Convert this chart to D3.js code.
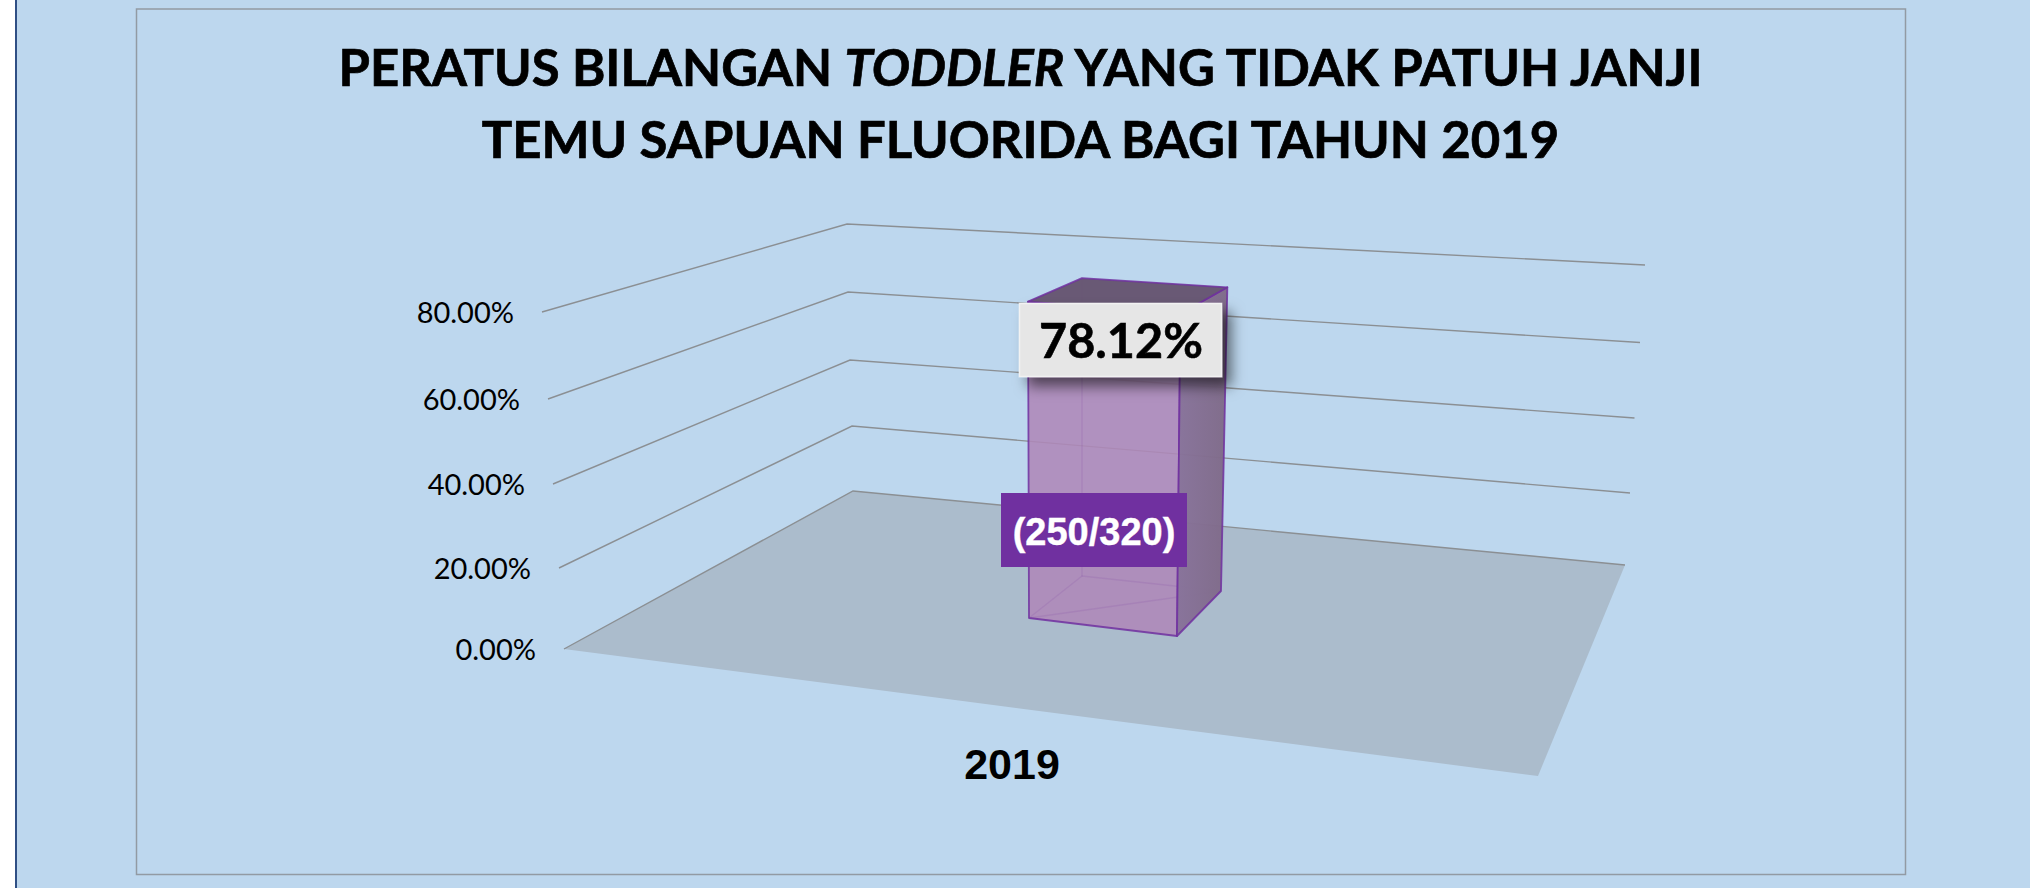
<!DOCTYPE html>
<html><head><meta charset="utf-8">
<script src="https://cdn.jsdelivr.net/npm/d3@7/dist/d3.min.js"></script>
<style>html,body{margin:0;padding:0;background:#fff;overflow:hidden}svg{display:block}</style>
</head><body><div id="c"></div>
<script>
const titleLine1 = [["PERATUS BILANGAN ",false],["TODDLER",true],[" YANG TIDAK PATUH JANJI",false]];
const titleLine2 = "TEMU SAPUAN FLUORIDA BAGI TAHUN 2019";
const categories = ["2019"];
const values = [78.12];
const countLabels = ["(250/320)"];
const yTicks = [0,20,40,60,80];
const yTickLabels = ["0.00%","20.00%","40.00%","60.00%","80.00%"];
const yMax = 80;

const W=2030,H=888;
const svg=d3.select("#c").append("svg").attr("width",W).attr("height",H);
const defs=svg.append("defs");
const sh=defs.append("filter").attr("id","sh").attr("x","-20%").attr("y","-30%").attr("width","150%").attr("height","180%");
sh.append("feDropShadow").attr("dx",9).attr("dy",9).attr("stdDeviation",7).attr("flood-color","#000").attr("flood-opacity",.55);
const sideG=defs.append("linearGradient").attr("id","side");
sideG.append("stop").attr("offset",0).attr("stop-color","#88729a").attr("stop-opacity",.97);
sideG.append("stop").attr("offset",1).attr("stop-color","#7f6a88").attr("stop-opacity",.97);

svg.append("rect").attr("x",16).attr("y",0).attr("width",W-16).attr("height",H).attr("fill","#bdd7ee");
svg.append("line").attr("x1",16).attr("x2",16).attr("y1",0).attr("y2",H).attr("stroke","#2f4f85").attr("stroke-width",2);
svg.append("rect").attr("x",136.5).attr("y",9).attr("width",1769).attr("height",865.5).attr("fill","none").attr("stroke","#929aa3").attr("stroke-width",1.5);

// projected axes: each edge of the 3-D box is a scale from value to a screen point.
// d3's array interpolator reuses its output, so every call is copied.
const edge=(dom,rng)=>{const s=d3.scaleLinear().domain(dom).range(rng);return t=>[...s(t)];};
const leftEdge=edge(yTicks,[[564,649],[559,568],[553,484],[548,399],[542,312]]);
const backEdge=edge(yTicks,[[853,491],[852,426],[850,360],[848,292],[847,224]]);
const rightEdge=edge(yTicks,[[1625,565],[1630,493],[1634.5,418],[1640,342.5],[1645,265]]);
const floorFront=[1538,776];

const path=pts=>d3.line()(pts)+"Z";
svg.append("path").attr("d",path([leftEdge(0),backEdge(0),rightEdge(0),floorFront])).attr("fill","#abbccc");

svg.append("g").selectAll("path").data(yTicks).join("path")
 .attr("d",t=>d3.line()([leftEdge(t),backEdge(t),rightEdge(t)]))
 .attr("fill","none").attr("stroke","#8b8f93").attr("stroke-width",1.4);

svg.append("g").selectAll("text").data(yTicks).join("text")
 .attr("x",t=>leftEdge(t)[0]-28).attr("y",t=>leftEdge(t)[1]+11)
 .attr("text-anchor","end").attr("font-family","Lato").attr("font-size",29).attr("fill","#000")
 .text((t,i)=>yTickLabels[i]);

// bar: four vertical edges, value -> screen point
const fl=edge([0,yMax],[[1029,618],[1028,294]]);
const fr=edge([0,yMax],[[1177,636],[1180.5,306]]);
const br=edge([0,yMax],[[1221,591],[1227.5,280]]);
const bl=edge([0,yMax],[[1082,576],[1082,271]]);
const v=values[0];
const lineC="#7030a0";
const bar=svg.append("g");
const face=(pts,fill,op,sw,so)=>bar.append("path").attr("d",path(pts)).attr("fill",fill).attr("fill-opacity",op)
  .attr("stroke",lineC).attr("stroke-width",sw).attr("stroke-opacity",so).attr("stroke-linejoin","round");
face([fl(0),fl(v),fr(v),fr(0)],"#ae88b8",.88,1.8,.85);
face([bl(0),bl(v)],"none",0,1.5,.12);
face([fl(0),bl(0),br(0)],"none",0,1.5,.12);
face([fr(0),fr(v),br(v),br(0)],"url(#side)",1,1.8,.85);
face([fl(v),bl(v),br(v),fr(v)],"#675672",.98,1.8,.85);

// value label
svg.append("rect").attr("x",1019.5).attr("y",303.5).attr("width",202).attr("height",73)
 .attr("fill","#e6e6e6").attr("stroke","#f2f2f2").attr("stroke-width",1.5).attr("filter","url(#sh)");
svg.append("text").attr("x",1121).attr("y",358).attr("text-anchor","middle").attr("font-family","Lato").attr("font-weight",700)
 .attr("font-size",48.5).attr("stroke","#000").attr("stroke-width",.6).attr("fill","#000").text(v.toFixed(2)+"%");

svg.append("rect").attr("x",1001).attr("y",493).attr("width",186).attr("height",74).attr("fill","#7030a0");
svg.append("text").attr("x",1094).attr("y",545).attr("text-anchor","middle").attr("font-family","Liberation Sans").attr("font-weight",700)
 .attr("font-size",38).attr("fill","#fff").attr("stroke","#fff").attr("stroke-width",.4).text(countLabels[0]);

svg.append("text").attr("x",1012).attr("y",779).attr("text-anchor","middle").attr("font-family","Liberation Sans").attr("font-weight",700)
 .attr("font-size",43).attr("fill","#000").text(categories[0]);

const titleStyle=s=>s.attr("x",1020.5).attr("text-anchor","middle").attr("font-family","Lato").attr("font-weight",700).attr("font-size",50.8).attr("fill","#000").attr("stroke","#000").attr("stroke-width",.7);
const t1=svg.append("text").attr("y",86).call(titleStyle);
t1.selectAll("tspan").data(titleLine1).join("tspan").attr("font-style",d=>d[1]?"italic":"normal").style("white-space","pre").text(d=>d[0]);
svg.append("text").attr("y",158).call(titleStyle).text(titleLine2);
</script></body></html>
